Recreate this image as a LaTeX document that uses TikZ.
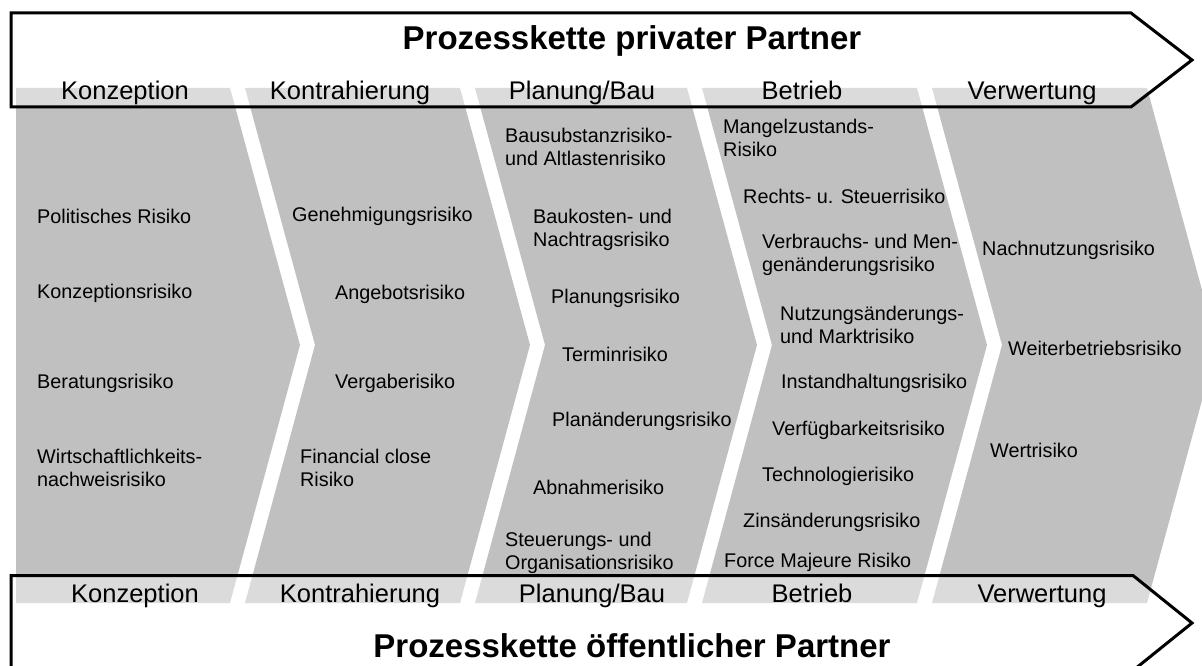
\documentclass[tikz,border=0pt]{standalone}
\usepackage{fontspec}
\setmainfont{Liberation Sans}
\definecolor{chevgray}{HTML}{C0C0C0}
\begin{document}
\begin{tikzpicture}[x=1pt,y=-1pt,
  chev/.style={fill=chevgray, draw=none},
  proc/.style={draw=black, line width=3pt, fill=white, fill opacity=0.43, line join=miter},
  risk/.style={anchor=west, inner sep=0pt, align=left, font=\fontsize{19.8}{23}\selectfont},
  phase/.style={anchor=base, inner sep=0pt, font=\fontsize{25.5}{30}\selectfont},
  ptitle/.style={anchor=base, inner sep=0pt, font=\fontsize{33}{38}\selectfont\bfseries}]
\useasboundingbox (0,0) rectangle (1202,666);
\clip (0,0) rectangle (1202,666);
% chevrons
\path[chev] (16,88) -- (230,88) -- (300,345) -- (230,603) -- (16,603) -- cycle;
\path[chev] (245,88) -- (460,88) -- (530,345) -- (460,603) -- (245,603) -- (315,345) -- cycle;
\path[chev] (475,88) -- (687,88) -- (757,345) -- (687,603) -- (475,603) -- (545,345) -- cycle;
\path[chev] (702,88) -- (917,88) -- (987,345) -- (917,603) -- (702,603) -- (772,345) -- cycle;
\path[chev] (932,88) -- (1147,88) -- (1217,345) -- (1147,603) -- (932,603) -- (1002,345) -- cycle;
% process arrows
\path[proc] (11,13) -- (1131,13) -- (1192,60) -- (1131,107) -- (11,107) -- cycle;
\path[proc] (11,575.5) -- (1133,575.5) -- (1192,623) -- (1133,670.5) -- (11,670.5) -- cycle;
% titles
\node[ptitle] (tp) at (632,50) {Prozesskette privater Partner};
\node[ptitle] (tö) at (632,657) {Prozesskette öffentlicher Partner};
% phase labels top
\node[phase] (pt1) at (125,100) {Konzeption};
\node[phase] (pt2) at (350,100) {Kontrahierung};
\node[phase] (pt3) at (582,100) {Planung/Bau};
\node[phase] (pt4) at (802,100) {Betrieb};
\node[phase] (pt5) at (1032,100) {Verwertung};
% phase labels bottom
\node[phase] (pb1) at (135,602) {Konzeption};
\node[phase] (pb2) at (360,602) {Kontrahierung};
\node[phase] (pb3) at (592,602) {Planung/Bau};
\node[phase] (pb4) at (812,602) {Betrieb};
\node[phase] (pb5) at (1042,602) {Verwertung};
% column 1
\node[risk] (r11) at (37,216) {Politisches Risiko};
\node[risk] (r12) at (37,293) {Konzeptionsrisiko};
\node[risk] (r13) at (37,383) {Beratungsrisiko};
\node[risk] (r14) at (37,468) {Wirtschaftlichkeits-\\nachweisrisiko};
% column 2
\node[risk] (r21) at (292,216) {Genehmigungsrisiko};
\node[risk] (r22) at (335,294) {Angebotsrisiko};
\node[risk] (r23) at (335,383) {Vergaberisiko};
\node[risk] (r24) at (300,468) {Financial close\\Risiko};
% column 3
\node[risk] (r31) at (505,147) {Bausubstanzrisiko-\\und Altlastenrisiko};
\node[risk] (r32) at (533,230) {Baukosten- und\\Nachtragsrisiko};
\node[risk] (r33) at (551,298) {Planungsrisiko};
\node[risk] (r34) at (562,354) {Terminrisiko};
\node[risk] (r35) at (552,421) {Planänderungsrisiko};
\node[risk] (r36) at (533,487) {Abnahmerisiko};
\node[risk] (r37) at (505,553) {Steuerungs- und\\Organisationsrisiko};
% column 4
\node[risk] (r41) at (723,138) {Mangelzustands-\\Risiko};
\node[risk] (r42) at (743,196) {Rechts- u. Steuerrisiko};
\node[risk] (r43) at (762,255) {Verbrauchs- und Men-\\genänderungsrisiko};
\node[risk] (r44) at (780,325) {Nutzungsänderungs-\\und Marktrisiko};
\node[risk] (r45) at (781,383) {Instandhaltungsrisiko};
\node[risk] (r46) at (772,430) {Verfügbarkeitsrisiko};
\node[risk] (r47) at (762,476) {Technologierisiko};
\node[risk] (r48) at (743,522) {Zinsänderungsrisiko};
\node[risk] (r49) at (724,562) {Force Majeure Risiko};
% column 5
\node[risk] (r51) at (982,250) {Nachnutzungsrisiko};
\node[risk] (r52) at (1008,348) {Weiterbetriebsrisiko};
\node[risk] (r53) at (990,450) {Wertrisiko};
\end{tikzpicture}
\end{document}
